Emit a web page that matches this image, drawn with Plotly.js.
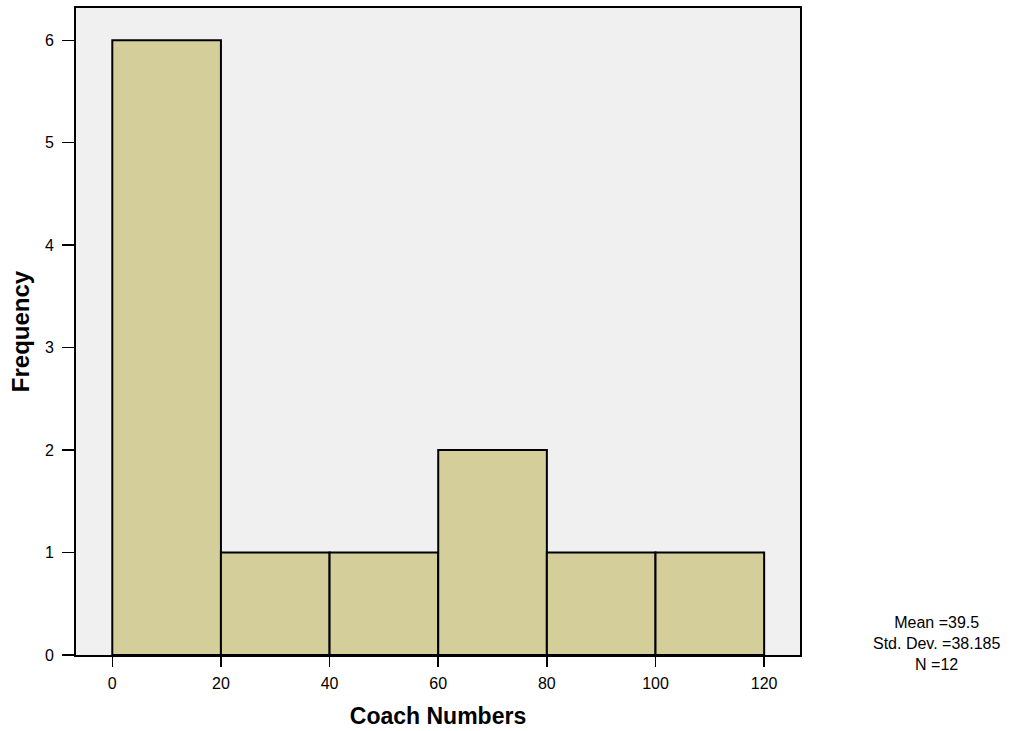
<!DOCTYPE html>
<html><head><meta charset="utf-8">
<script src="https://cdn.plot.ly/plotly-3.0.1.min.js"></script>
<style>html,body{margin:0;padding:0;background:#fff}#chart{width:1026px;height:731px}</style>
</head><body><div id="chart"></div>
<script>
const binCenters = [10, 30, 50, 70, 90, 110];
const frequencies = [6, 1, 1, 2, 1, 1];
const xTicks = [0, 20, 40, 60, 80, 100, 120];
const yTicks = [0, 1, 2, 3, 4, 5, 6];
const statsLines = ["Mean =39.5", "Std. Dev. =38.185", "N =12"];

const trace = {
  type: 'bar', x: binCenters, y: frequencies, width: 20,
  marker: {color: '#d3ce9a', line: {color: '#000', width: 2}},
  hoverinfo: 'none'
};
const layout = {
  width: 1026, height: 731,
  margin: {l: 76, r: 226, t: 8, b: 76},
  paper_bgcolor: '#fff', plot_bgcolor: '#f0f0f0',
  font: {family: 'Liberation Sans, Arial, sans-serif', color: '#000', size: 16},
  showlegend: false, bargap: 0,
  xaxis: {range: [-6.68, 126.6], tickvals: xTicks, ticktext: xTicks.map(String),
    ticks: 'outside', ticklen: 10, tickwidth: 1.5, tickcolor: '#000',
    showgrid: false, zeroline: false, showline: true, linecolor: '#000', linewidth: 2, mirror: true,
    tickfont: {size: 16}, ticklabelstandoff: 3,
    title: {text: 'Coach Numbers', font: {size: 23, weight: 'bold'}, standoff: 17}},
  yaxis: {range: [0, 6.315], tickvals: yTicks, ticktext: yTicks.map(String),
    ticks: 'outside', ticklen: 12, tickwidth: 1.5, tickcolor: '#000',
    showgrid: false, zeroline: false, showline: true, linecolor: '#000', linewidth: 2, mirror: true,
    tickfont: {size: 16}, ticklabelstandoff: 5,
    title: {text: 'Frequency', font: {size: 24, weight: 'bold'}, standoff: 8}},
  annotations: [{
    xref: 'paper', yref: 'paper', x: 1.189, y: 0.0185, xanchor: 'center', yanchor: 'middle',
    text: statsLines.join('<br>'), showarrow: false, align: 'center', font: {size: 16}
  }]
};
Plotly.newPlot('chart', [trace], layout, {displayModeBar: false, staticPlot: true});
</script></body></html>
